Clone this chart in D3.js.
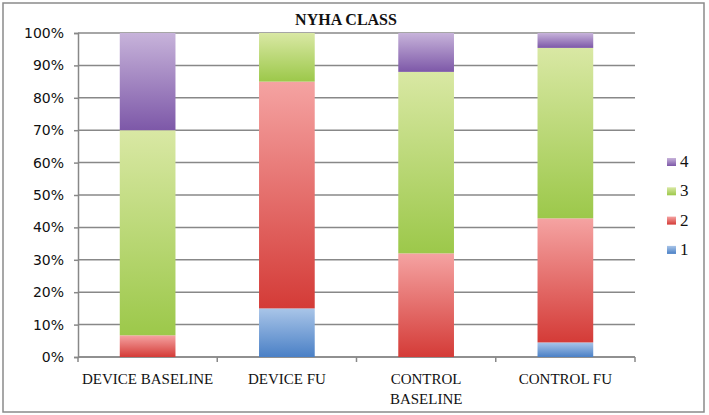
<!DOCTYPE html>
<html>
<head>
<meta charset="utf-8">
<script src="https://cdn.jsdelivr.net/npm/d3@7"></script>
<style>
  body { margin: 0; background: #fff; }
</style>
</head>
<body>
<div id="canvas"></div>
<script>
// data (percent of patients per NYHA class)
const categories = ["DEVICE BASELINE", "DEVICE FU", "CONTROL BASELINE", "CONTROL FU"];
const classes = ["1", "2", "3", "4"];
const class1 = [0, 15, 0, 4.5];
const class2 = [6.7, 70, 32, 38.3];
const class3 = [63.3, 15, 56, 52.6];
const class4 = [30, 0, 12, 4.6];
const yTicks = [0, 10, 20, 30, 40, 50, 60, 70, 80, 90, 100];

// dimensions
const width = 709;
const height = 415;
const margins = {top: 33, right: 74, bottom: 58, left: 78};
const dataWidth = width - margins.left - margins.right;
const dataHeight = height - margins.top - margins.bottom;

// gradient colours per class: [top, bottom]
const colours = {
  "1": ["#a9c5e8", "#4a80c6"],
  "2": ["#f5a3a2", "#d43b37"],
  "3": ["#d9e8a4", "#9cc84a"],
  "4": ["#c7b3da", "#7d58a8"]
};

const rows = categories.map((c, i) => ({
  category: c, "1": class1[i], "2": class2[i], "3": class3[i], "4": class4[i]
}));

var svg = d3.select("#canvas").append("svg")
  .attr("width", width)
  .attr("height", height);

var defs = svg.append("defs");
classes.forEach(k => {
  var g = defs.append("linearGradient")
    .attr("id", "grad" + k)
    .attr("x1", 0).attr("y1", 0).attr("x2", 0).attr("y2", 1);
  g.append("stop").attr("offset", "0%").attr("stop-color", colours[k][0]);
  g.append("stop").attr("offset", "100%").attr("stop-color", colours[k][1]);
});

// outer border
svg.append("rect")
  .attr("x", 3).attr("y", 3)
  .attr("width", 701).attr("height", 409)
  .attr("fill", "#fff")
  .attr("stroke", "#8a8a8a")
  .attr("stroke-width", 1.5);

var dataArea = svg.append("g")
  .attr("transform", `translate(${margins.left}, ${margins.top})`);

var x = d3.scaleBand()
  .domain(categories)
  .range([0, dataWidth])
  .paddingInner(0.6)
  .paddingOuter(0.3);

var y = d3.scaleLinear()
  .domain([0, 100])
  .range([dataHeight, 0]);

// gridlines
dataArea.selectAll(".grid")
  .data(yTicks)
  .enter().append("line")
  .attr("class", "grid")
  .attr("x1", 0).attr("x2", dataWidth)
  .attr("y1", d => y(d)).attr("y2", d => y(d))
  .attr("stroke", "#888")
  .attr("stroke-width", 1.5);

// Y axis
var yAxis = dataArea.append("g")
  .call(d3.axisLeft(y).tickValues(yTicks).tickFormat(d => d + "%").tickSize(4).tickPadding(10));
yAxis.select(".domain").attr("stroke", "#888").attr("stroke-width", 1.5);
yAxis.selectAll(".tick line").attr("stroke", "#888").attr("stroke-width", 1.5);
yAxis.selectAll("text")
  .attr("font-family", "DejaVu Sans, sans-serif")
  .attr("font-size", 14)
  .attr("fill", "#111");

// X axis
var xAxisGroup = dataArea.append("g")
  .attr("transform", `translate(0, ${dataHeight})`);
xAxisGroup.append("line")
  .attr("x1", 0).attr("x2", dataWidth)
  .attr("stroke", "#888").attr("stroke-width", 1.5);
var step = dataWidth / categories.length;
xAxisGroup.selectAll(".xtick")
  .data(d3.range(categories.length + 1))
  .enter().append("line")
  .attr("x1", d => d * step).attr("x2", d => d * step)
  .attr("y1", 0).attr("y2", 5)
  .attr("stroke", "#888").attr("stroke-width", 1.5);

// category labels (CONTROL BASELINE wraps)
var labels = xAxisGroup.selectAll(".xlabel")
  .data(categories)
  .enter().append("text")
  .attr("class", "xlabel")
  .attr("x", d => x(d) + x.bandwidth() / 2)
  .attr("y", 27)
  .attr("text-anchor", "middle")
  .attr("font-family", "Liberation Serif, serif")
  .attr("font-size", 15)
  .attr("fill", "#111");
labels.each(function(d) {
  var parts = d === "CONTROL BASELINE" ? ["CONTROL", "BASELINE"] : [d];
  var t = d3.select(this);
  parts.forEach((p, i) => {
    t.append("tspan")
      .attr("x", x(d) + x.bandwidth() / 2)
      .attr("dy", i === 0 ? 0 : 20)
      .text(p);
  });
});

// stacked bars
var stack = d3.stack().keys(classes);
var series = stack(rows);

dataArea.selectAll(".series")
  .data(series)
  .enter().append("g")
  .attr("class", "series")
  .attr("fill", d => `url(#grad${d.key})`)
  .selectAll("rect")
  .data(d => d.filter(s => s[1] - s[0] > 0))
  .enter().append("rect")
  .attr("x", d => x(d.data.category))
  .attr("width", x.bandwidth())
  .attr("y", d => y(d[1]))
  .attr("height", d => y(d[0]) - y(d[1]));

// title
svg.append("text")
  .attr("x", 346)
  .attr("y", 25)
  .attr("text-anchor", "middle")
  .attr("font-family", "Liberation Serif, serif")
  .attr("font-weight", "bold")
  .attr("font-size", 16)
  .attr("fill", "#111")
  .text("NYHA CLASS");

// legend (4 on top)
var legend = svg.append("g")
  .attr("transform", "translate(667, 158)");
var legendItems = legend.selectAll(".item")
  .data(classes.slice().reverse())
  .enter().append("g")
  .attr("transform", (d, i) => `translate(0, ${i * 29.3})`);
legendItems.append("rect")
  .attr("width", 9).attr("height", 8)
  .attr("fill", d => `url(#grad${d})`);
legendItems.append("text")
  .attr("x", 13)
  .attr("y", 9)
  .attr("font-family", "Liberation Serif, serif")
  .attr("font-size", 17)
  .attr("fill", "#111")
  .text(d => d);
</script>
</body>
</html>
